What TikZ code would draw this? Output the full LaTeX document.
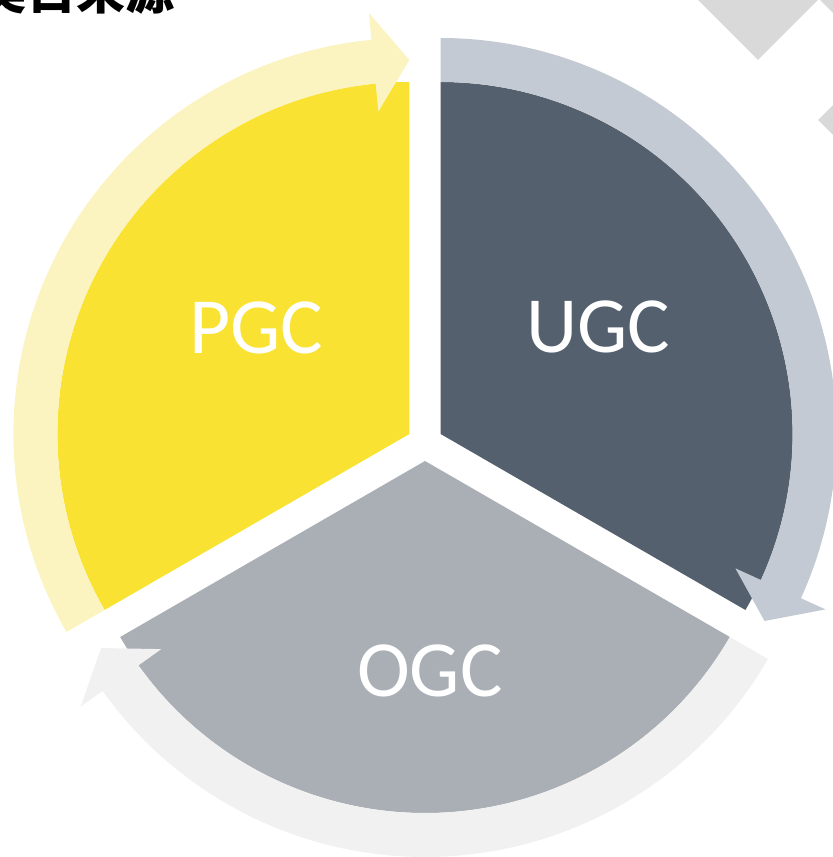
\documentclass[tikz,border=0pt]{standalone}
\usepackage{fontspec}
\usepackage{tikz}
\usetikzlibrary{positioning}
\newfontfamily\labelfont{Carlito}
\newfontfamily\cjkfont{Noto Sans CJK SC}
\definecolor{pgcYellow}{RGB}{249, 226, 49}
\definecolor{pgcLight}{RGB}{252, 244, 192}
\definecolor{ugcDark}{RGB}{84, 96, 110}
\definecolor{ugcLight}{RGB}{196, 202, 211}
\definecolor{ogcGray}{RGB}{169, 175, 181}
\definecolor{ogcLight}{RGB}{241, 241, 241}
\definecolor{markGray}{RGB}{217, 217, 217}

\begin{document}
\begin{tikzpicture}[x=0.03cm, y=0.03cm]
    \useasboundingbox (0,0) rectangle (833,857);
    % watermark diamonds
    \fill[markGray] (758,797) -- (838,877) -- (758,957) -- (678,877) -- cycle;
    \fill[markGray] (880,797) -- (960,877) -- (880,957) -- (800,877) -- cycle;
    \fill[markGray] (898,657) -- (978,737) -- (898,817) -- (818,737) -- cycle;
    % title, cut by the page edge
    \node[anchor=base east, inner sep=0pt, font=\cjkfont\bfseries\fontsize{42}{42}\selectfont]
        (title) at (175,847.5) {类目来源};
    % centres of the three pieces
    \coordinate (P) at (409.4,423);
    \coordinate (U) at (440.6,423);
    \coordinate (O) at (425,396);
    \fill[pgcYellow] (P) -- +(90:352) arc[start angle=90, end angle=210, radius=352] -- cycle;
    \fill[ugcDark] (U) -- +(-30:352) arc[start angle=-30, end angle=90, radius=352] -- cycle;
    \fill[ogcGray] (O) -- +(210:352) arc[start angle=210, end angle=330, radius=352] -- cycle;
    % outer arrows
    \fill[pgcLight, shift={(P)}] (210:352) arc[start angle=210, end angle=95.5, radius=352]
        -- (95.5:324) -- (90:374) -- (95.5:423) -- (95.5:396)
        arc[start angle=95.5, end angle=210, radius=396] -- cycle;
    \fill[ugcLight, shift={(U)}] (90:352) arc[start angle=90, end angle=-24.5, radius=352]
        -- (-24.5:324) -- (-30:374) -- (-24.5:423) -- (-24.5:396)
        arc[start angle=-24.5, end angle=90, radius=396] -- cycle;
    \fill[ogcLight, shift={(O)}] (330:352) arc[start angle=330, end angle=215.5, radius=352]
        -- (215.5:324) -- (210:374) -- (215.5:423) -- (215.5:396)
        arc[start angle=215.5, end angle=330, radius=396] -- cycle;
    % labels
    \node[white, font=\labelfont\fontsize{68}{68}\selectfont] (pgc) at (256,529) {PGC};
    \node[white, font=\labelfont\fontsize{68}{68}\selectfont] (ugc) at (598,530) {UGC};
    \node[white, font=\labelfont\fontsize{68}{68}\selectfont] (ogc) at (430,186) {OGC};
\end{tikzpicture}
\end{document}
